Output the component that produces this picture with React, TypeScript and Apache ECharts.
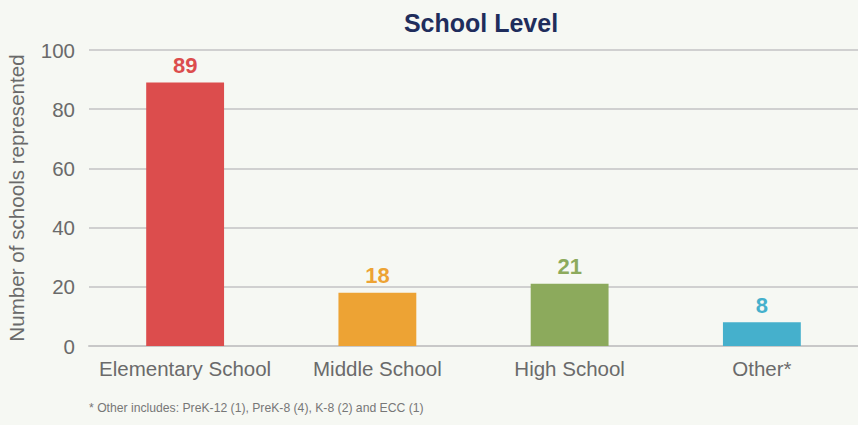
import React, { useEffect, useRef } from "react";
import * as echarts from "echarts";

const categories = ["Elementary School", "Middle School", "High School", "Other*"];
const values = [89, 18, 21, 8];
const barColors = ["#dc4d4d", "#eda334", "#8caa5c", "#45b0cc"];
const yTicks = [0, 20, 40, 60, 80, 100];
const titleText = "School Level";
const yAxisName = "Number of schools represented";
const footnote = "* Other includes: PreK-12 (1), PreK-8 (4), K-8 (2) and ECC (1)";

export default function App() {
  const ref = useRef<HTMLDivElement>(null);
  useEffect(() => {
    if (!ref.current) return;
    const chart = echarts.init(ref.current, null, { renderer: "svg" });
    const font = "'Liberation Sans', Arial, Helvetica, sans-serif";
    chart.setOption({
      animation: false,
      backgroundColor: "#f6f8f3",
      title: {
        text: titleText,
        left: 476,
        top: 5,
        textAlign: "center",
        textStyle: { color: "#1f2d5c", fontSize: 25, fontWeight: "bold", fontFamily: font },
      },
      grid: { left: 89, right: 0, top: 50, bottom: 79, containLabel: false, outerBoundsMode: "none" },
      xAxis: {
        type: "category",
        data: categories,
        axisLine: { show: true, lineStyle: { color: "#c8c8c8", width: 2 } },
        axisTick: { show: false },
        axisLabel: { color: "#6a6a6a", fontSize: 20.5, fontFamily: font, margin: 12, interval: 0 },
      },
      yAxis: {
        type: "value",
        min: yTicks[0],
        max: yTicks[yTicks.length - 1],
        interval: 20,
        name: yAxisName,
        nameLocation: "middle",
        nameGap: 62,
        nameTextStyle: { color: "#6a6a6a", fontSize: 20.6, fontFamily: font },
        axisLine: { show: false },
        axisTick: { show: false },
        axisLabel: { color: "#6a6a6a", fontSize: 20.5, fontFamily: font, margin: 14 },
        splitLine: { lineStyle: { color: "#d0d0d0", width: 2 } },
      },
      series: [
        {
          type: "bar",
          barWidth: "40.5%",
          data: values.map((v, i) => ({
            value: v,
            itemStyle: { color: barColors[i] },
            label: { color: barColors[i] },
          })),
          label: {
            show: true,
            position: "top",
            distance: 6,
            fontSize: 22,
            fontWeight: "bold",
            fontFamily: font,
          },
        },
      ],
      graphic: [
        {
          type: "text",
          left: 89,
          top: 402,
          style: { text: footnote, fill: "#777777", fontSize: 12.2, fontFamily: font },
        },
      ],
    });
    return () => chart.dispose();
  }, []);
  return <div ref={ref} style={{ position: "fixed", left: 0, top: 0, width: 858, height: 425 }} />;
}
